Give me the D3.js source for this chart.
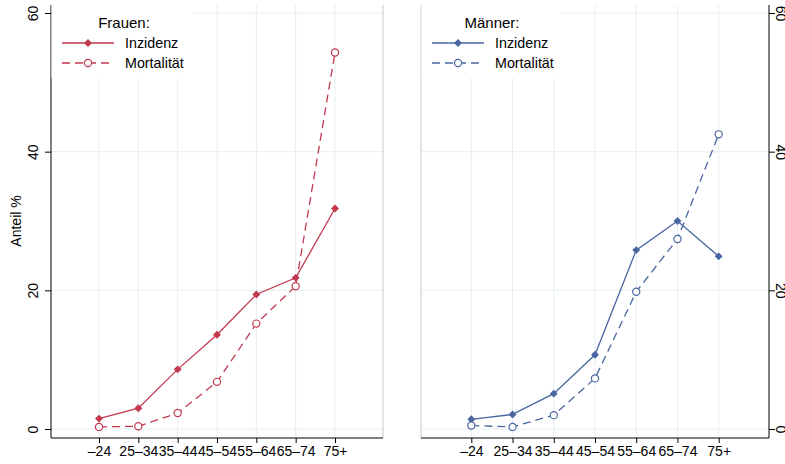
<!DOCTYPE html>
<html><head><meta charset="utf-8">
<script src="https://cdn.jsdelivr.net/npm/d3@7"></script>
<style>body{margin:0;background:#fff}svg{display:block}text{font-family:"Liberation Sans",Arial,sans-serif;fill:#000}</style>
</head><body>
<script>
const categories = ["–24","25–34","35–44","45–54","55–64","65–74","75+"];
const frauenInzidenz = [1.5, 3.0, 8.6, 13.6, 19.4, 21.8, 31.8];
const frauenMortalitaet = [0.3, 0.4, 2.3, 6.8, 15.2, 20.6, 54.3];
const maennerInzidenz = [1.4, 2.1, 5.1, 10.7, 25.8, 30.0, 24.9];
const maennerMortalitaet = [0.5, 0.3, 2.0, 7.3, 19.8, 27.4, 42.5];
const yTicks = [0, 20, 40, 60];
const yTitle = "Anteil %";
const seriesNames = ["Inzidenz", "Mortalität"];

(function(){
const W = 785, H = 464;
const svg = d3.select("body").append("svg").attr("width", W).attr("height", H);

const plotTop = 5, plotBottom = 438;
const y = d3.scaleLinear().domain([0, 60]).range([429, 13]);
const grid = "#e6eff1";

const panels = [
  {title: "Frauen:", color: "#c2394f", inc: frauenInzidenz, mort: frauenMortalitaet, x0: 51, x1: 383, axisSide: "left"},
  {title: "Männer:", color: "#4a66a0", inc: maennerInzidenz, mort: maennerMortalitaet, x0: 421, x1: 769, axisSide: "right"}
];

panels.forEach(p => {
  const x = d3.scaleLinear().domain([-0.22, 8.22]).range([p.x0, p.x1]);
  const g = svg.append("g");
  const idx = categories.map((c, i) => i + 1);

  g.selectAll(".vg").data(idx).join("line")
    .attr("x1", d => x(d)).attr("x2", d => x(d)).attr("y1", plotTop).attr("y2", plotBottom)
    .attr("stroke", grid).attr("stroke-width", 1);
  g.selectAll(".hg").data(yTicks).join("line")
    .attr("x1", p.x0).attr("x2", p.x1).attr("y1", d => y(d)).attr("y2", d => y(d))
    .attr("stroke", grid).attr("stroke-width", 1);

  const greyX = p.axisSide === "left" ? p.x1 : p.x0;
  g.append("line").attr("x1", greyX).attr("x2", greyX).attr("y1", plotTop).attr("y2", plotBottom)
    .attr("stroke", "#c8c8c8").attr("stroke-width", 1);

  const xAxis = d3.axisBottom(x).tickValues(idx).tickFormat(d => categories[d - 1]).tickSize(5).tickPadding(3);
  const xa = g.append("g").attr("transform", `translate(0,${plotBottom})`).call(xAxis);
  xa.select(".domain").attr("d", `M${p.x0},0H${p.x1}`).attr("stroke", "#000");
  xa.selectAll("text").attr("font-size", 14).attr("font-family", "Liberation Sans, Arial, sans-serif");

  const yAxis = (p.axisSide === "left" ? d3.axisLeft(y) : d3.axisRight(y)).tickValues(yTicks).tickSize(6).tickPadding(0);
  const ax = p.axisSide === "left" ? p.x0 : p.x1;
  const ya = g.append("g").attr("transform", `translate(${ax},0)`).call(yAxis);
  ya.select(".domain").attr("d", `M0,${plotTop}V${plotBottom}`).attr("stroke", "#000");
  ya.selectAll("text").attr("font-size", 14).attr("font-family", "Liberation Sans, Arial, sans-serif")
    .attr("text-anchor", "middle").attr("dy", null)
    .attr("transform", function(d){
      return p.axisSide === "left" ? `translate(-18,0) rotate(-90)` : `translate(12,0) rotate(90)`;
    })
    .attr("x", 0).attr("y", 0).attr("dominant-baseline", "central");

  const line = d3.line().x((d, i) => x(i + 1)).y(d => y(d));
  g.append("path").datum(p.inc).attr("d", line).attr("fill", "none")
    .attr("stroke", p.color).attr("stroke-width", 1.3);
  g.append("path").datum(p.mort).attr("d", line).attr("fill", "none")
    .attr("stroke", p.color).attr("stroke-width", 1.3).attr("stroke-dasharray", "8,5");

  const diamond = d3.symbol().type(d3.symbolDiamond2).size(40);
  g.selectAll(".dm").data(p.inc).join("path")
    .attr("d", diamond).attr("transform", (d, i) => `translate(${x(i + 1)},${y(d)})`)
    .attr("fill", p.color);
  g.selectAll(".cm").data(p.mort).join("circle")
    .attr("cx", (d, i) => x(i + 1)).attr("cy", d => y(d)).attr("r", 3.6)
    .attr("fill", "#fff").attr("stroke", p.color).attr("stroke-width", 1.2);

  const lx = p.x0;
  const lw = p.axisSide === "left" ? 141 : 139;
  const lg = svg.append("g");
  lg.append("rect").attr("x", lx + 0.5).attr("y", plotTop).attr("width", lw).attr("height", 73).attr("fill", "#fff");
  const titleX = p.axisSide === "left" ? 124 : 492;
  lg.append("text").attr("x", titleX).attr("y", 28).attr("text-anchor", "middle").attr("font-size", 15).text(p.title);
  const sx0 = lx + 11, sx1 = lx + 63, sm = lx + 37, tx = lx + 74;
  [43, 63].forEach((ry, k) => {
    lg.append("line").attr("x1", sx0).attr("x2", sx1).attr("y1", ry).attr("y2", ry)
      .attr("stroke", p.color).attr("stroke-width", 1.3).attr("stroke-dasharray", k ? "8,5" : null);
    if (k === 0) {
      lg.append("path").attr("d", diamond).attr("transform", `translate(${sm},${ry})`).attr("fill", p.color);
    } else {
      lg.append("circle").attr("cx", sm).attr("cy", ry).attr("r", 3.6).attr("fill", "#fff")
        .attr("stroke", p.color).attr("stroke-width", 1.2);
    }
    lg.append("text").attr("x", tx).attr("y", ry).attr("dy", "0.35em").attr("font-size", 14.3).text(seriesNames[k]);
  });
});

svg.append("text").attr("transform", `translate(21,${y(30)}) rotate(-90)`)
  .attr("text-anchor", "middle").attr("font-size", 14).text(yTitle);
})();
</script>
</body></html>
